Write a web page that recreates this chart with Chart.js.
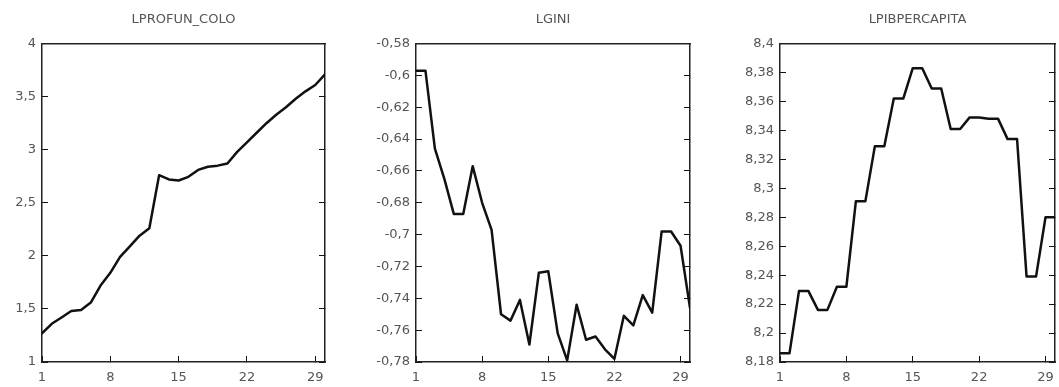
<!DOCTYPE html>
<html lang="en">

<head>
    <meta charset="UTF-8">
    <title>LPROFUN_COLO / LGINI / LPIBPERCAPITA</title>
    <script src="https://cdn.jsdelivr.net/npm/chart.js"></script>
    <style>
        body {
            margin: 0;
            background: #ffffff;
            width: 1059px;
            height: 387px;
            overflow: hidden;
            position: relative;
        }

        canvas {
            position: absolute;
            top: 0;
        }
    </style>
</head>

<body>
    <canvas id="c1"></canvas>
    <canvas id="c2"></canvas>
    <canvas id="c3"></canvas>
    <script>
        // observation index (x axis)
        const periods = [1, 2, 3, 4, 5, 6, 7, 8, 9, 10, 11, 12, 13, 14, 15, 16, 17, 18, 19, 20, 21, 22, 23, 24, 25, 26, 27, 28, 29, 30];
        const xTicks = [1, 8, 15, 22, 29];

        const profunColo = [1.27, 1.36, 1.42, 1.48, 1.49, 1.56, 1.72, 1.84, 1.99, 2.09, 2.19, 2.26, 2.76, 2.72, 2.71, 2.745, 2.81, 2.84, 2.85, 2.87, 2.98, 3.07, 3.16, 3.25, 3.33, 3.40, 3.48, 3.55, 3.61, 3.71];
        const lgini = [-0.597, -0.597, -0.646, -0.665, -0.687, -0.687, -0.657, -0.680, -0.697, -0.750, -0.754, -0.741, -0.769, -0.724, -0.723, -0.762, -0.779, -0.744, -0.766, -0.764, -0.772, -0.778, -0.751, -0.757, -0.738, -0.749, -0.698, -0.698, -0.707, -0.746];
        const lpib = [8.186, 8.186, 8.229, 8.229, 8.216, 8.216, 8.232, 8.232, 8.291, 8.291, 8.329, 8.329, 8.362, 8.362, 8.383, 8.383, 8.369, 8.369, 8.341, 8.341, 8.349, 8.349, 8.348, 8.348, 8.334, 8.334, 8.239, 8.239, 8.280, 8.280];

        const profunTicks = [1, 1.5, 2, 2.5, 3, 3.5, 4];
        const giniTicks = [-0.78, -0.76, -0.74, -0.72, -0.7, -0.68, -0.66, -0.64, -0.62, -0.6, -0.58];
        const pibTicks = [8.18, 8.2, 8.22, 8.24, 8.26, 8.28, 8.3, 8.32, 8.34, 8.36, 8.38, 8.4];

        const SIDE = 60;
        const labelFont = { family: "DejaVu Sans", size: 13 };

        function fmt(v) {
            return String(v).replace('.', ',');
        }

        function makeChart(id, title, values, yTicks, plotLeft, plotRight) {
            const canvas = document.getElementById(id);
            const w = plotRight - plotLeft + 2 * SIDE;
            canvas.width = w;
            canvas.height = 387;
            canvas.style.left = (plotLeft - SIDE) + "px";

            const yMin = yTicks[0];
            const yMax = yTicks[yTicks.length - 1];
            const setY = (s) => { s.ticks = yTicks.map(v => ({ value: v })); };

            return new Chart(canvas.getContext("2d"), {
                type: "line",
                data: {
                    datasets: [{
                        data: periods.map((p, i) => ({ x: p, y: values[i] })),
                        borderColor: "#111111",
                        borderWidth: 2.5,
                        borderJoinStyle: "round",
                        borderCapStyle: "round",
                        pointRadius: 0,
                        fill: false,
                        tension: 0
                    }]
                },
                options: {
                    responsive: false,
                    animation: false,
                    layout: { padding: 0, autoPadding: false },
                    plugins: {
                        legend: { display: false },
                        tooltip: { enabled: false },
                        title: {
                            display: true,
                            text: title,
                            color: "#555555",
                            font: { family: "DejaVu Sans", size: 13, weight: "normal", lineHeight: 1.2 },
                            padding: { top: 12, bottom: 12 }
                        }
                    },
                    scales: {
                        x: {
                            type: "linear",
                            position: "bottom",
                            min: 1,
                            max: 30,
                            afterBuildTicks: (s) => { s.ticks = xTicks.map(v => ({ value: v })); },
                            afterFit: (s) => { s.height = 25; },
                            ticks: { color: "#555555", font: labelFont, padding: 14, maxRotation: 0, callback: (v) => fmt(v) },
                            grid: { drawOnChartArea: false, tickLength: -6, color: "#111111", lineWidth: 1 },
                            border: { color: "#222222", width: 1.5 }
                        },
                        xTop: {
                            type: "linear",
                            position: "top",
                            min: 1,
                            max: 30,
                            afterFit: (s) => { s.height = 4; },
                            ticks: { display: false },
                            grid: { display: false },
                            border: { color: "#222222", width: 1.5 }
                        },
                        y: {
                            type: "linear",
                            position: "left",
                            min: yMin,
                            max: yMax,
                            afterBuildTicks: setY,
                            afterFit: (s) => { s.width = SIDE; },
                            ticks: { color: "#555555", font: labelFont, padding: 12, callback: (v) => fmt(v) },
                            grid: { drawOnChartArea: false, tickLength: -6, color: "#111111", lineWidth: 1 },
                            border: { color: "#222222", width: 1.5 }
                        },
                        yRight: {
                            type: "linear",
                            position: "right",
                            min: yMin,
                            max: yMax,
                            afterBuildTicks: setY,
                            afterFit: (s) => { s.width = SIDE; },
                            ticks: { display: false },
                            grid: { drawOnChartArea: false, tickLength: -6, color: "#111111", lineWidth: 1 },
                            border: { color: "#222222", width: 1.5 }
                        }
                    }
                }
            });
        }

        makeChart("c1", "LPROFUN_COLO", profunColo, profunTicks, 42, 325);
        makeChart("c2", "LGINI", lgini, giniTicks, 416, 690);
        makeChart("c3", "LPIBPERCAPITA", lpib, pibTicks, 780, 1055);
    </script>
</body>

</html>
